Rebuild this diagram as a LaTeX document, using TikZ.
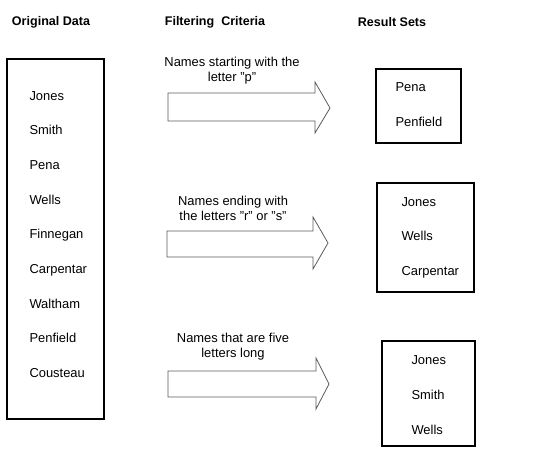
\documentclass[tikz,border=0pt]{standalone}
\usepackage{fontspec}
\setmainfont{Liberation Sans}

\begin{document}
\tikzset{every picture/.style={line width=0.75pt}}
\tikzset{
  namebox/.style={draw=black, line width=0.9pt},
  blockarrow/.style={draw={rgb, 255:red, 90; green, 90; blue, 90}, line width=0.6pt},
  every node/.style={font=\fontsize{9.7}{11.3}\selectfont, inner sep=0pt},
  header/.style={font=\fontsize{9.4}{11}\selectfont\bfseries},
}

\begin{tikzpicture}[x=0.75pt,y=0.75pt,yscale=-1,xscale=1]
		\useasboundingbox (0,0) rectangle (550,449);
		
		%Shape: Rectangle [id:original]
		\draw [namebox] (7,59) rectangle (104,419) ;
		%Shape: Rectangle [id:result1]
		\draw [namebox] (376,69) rectangle (461,143) ;
		%Shape: Rectangle [id:result2]
		\draw [namebox] (377,183) rectangle (474,292) ;
		%Shape: Rectangle [id:result3]
		\draw [namebox] (382,341) rectangle (475,446) ;
		
		%Shape: Right Arrow [id:arrow1]
		\draw [blockarrow] (168,93) -- (315,93) -- (315,82) -- (330,108) -- (315,133) -- (315,121) -- (168,121) -- cycle ;
		%Shape: Right Arrow [id:arrow2]
		\draw [blockarrow] (167,231) -- (313,231) -- (313,217) -- (328,243) -- (313,269) -- (313,257) -- (167,257) -- cycle ;
		%Shape: Right Arrow [id:arrow3]
		\draw [blockarrow] (168,371) -- (316,371) -- (316,358) -- (329,384) -- (316,409) -- (316,397) -- (168,397) -- cycle ;
		
		% Text Node
		\draw (51,22) node [header] (hdata) {Original Data};
		% Text Node
		\draw (215,22) node [header] (hcrit) {Filtering\ \ Criteria};
		% Text Node
		\draw (392,22) node [header] (hres) {Result Sets};
		
		% Text Node
		\draw (29,96) node [anchor=west] (ojones) {Jones};
		% Text Node
		\draw (29,130) node [anchor=west] (osmith) {Smith};
		% Text Node
		\draw (29,165) node [anchor=west] (opena) {Pena};
		% Text Node
		\draw (29,200) node [anchor=west] (owells) {Wells};
		% Text Node
		\draw (29,235) node [anchor=west] (ofinnegan) {Finnegan};
		% Text Node
		\draw (29,270) node [anchor=west] (ocarpentar) {Carpentar};
		% Text Node
		\draw (29,304) node [anchor=west] (owaltham) {Waltham};
		% Text Node
		\draw (29,338) node [anchor=west] (openfield) {Penfield};
		% Text Node
		\draw (29,373) node [anchor=west] (ocousteau) {Cousteau};
		
		% Text Node
		\draw (232,71) node [align=center] (crit1) {Names starting with the\\letter "p"};
		% Text Node
		\draw (233,208) node [align=center] (crit2) {Names ending with\\the letters "r" or "s"};
		% Text Node
		\draw (233,347) node [align=center] (crit3) {Names that are five\\letters long};
		
		% Text Node
		\draw (395,87) node [anchor=west] (rpena) {Pena};
		% Text Node
		\draw (395,122) node [anchor=west] (rpenfield) {Penfield};
		% Text Node
		\draw (401,202) node [anchor=west] (rjones) {Jones};
		% Text Node
		\draw (401,236) node [anchor=west] (rwells) {Wells};
		% Text Node
		\draw (401,272) node [anchor=west] (rcarpentar) {Carpentar};
		% Text Node
		\draw (411,360) node [anchor=west] (fjones) {Jones};
		% Text Node
		\draw (411,395) node [anchor=west] (fsmith) {Smith};
		% Text Node
		\draw (411,430) node [anchor=west] (fwells) {Wells};
		
\end{tikzpicture}
\end{document}
